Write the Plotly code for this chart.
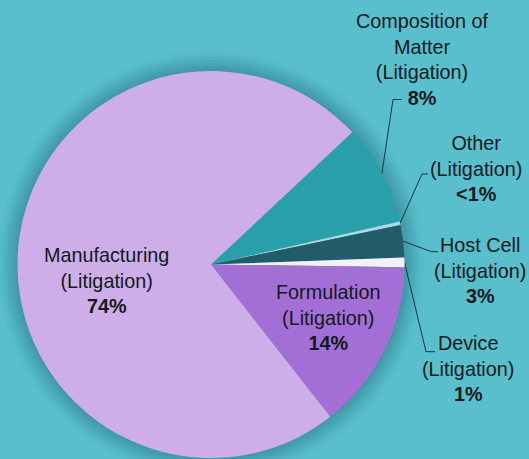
import math
import plotly.graph_objects as go

# ---- data ----
categories = ["Composition of Matter", "Other", "Host Cell", "Device", "Formulation", "Manufacturing"]
values = [8.4, 0.3, 2.7, 0.8, 14.2, 73.6]
pct_labels = ["8%", "<1%", "3%", "1%", "14%", "74%"]
colors = ["#2a9fac", "#a9dbe2", "#215c68", "#f3f0f8", "#a36fd7", "#cdaee8"]

W, H = 529, 459
BG = "#59bfcd"
CX, CY, R = 211, 264.5, 193.5     # pie centre / radius in pixels
ROT = 46.9                          # start angle of first slice (deg, clockwise from 12 o'clock)

fig = go.Figure()

# pie
fig.add_trace(go.Pie(
    labels=categories, values=values, sort=False, direction="clockwise",
    rotation=ROT, textinfo="none", hoverinfo="label+percent",
    marker=dict(colors=colors, line=dict(width=0)),
    domain=dict(x=[(CX - R) / W, (CX + R) / W], y=[(H - CY - R) / H, (H - CY + R) / H]),
    showlegend=False,
))

# slice mid angles from the data
total = sum(values)
mid = {}
acc = 0
for c, v in zip(categories, values):
    mid[c] = ROT + (acc + v / 2) / total * 360
    acc += v

def edge(c):
    a = math.radians(mid[c])
    return CX + R * math.sin(a), CY - R * math.cos(a)

# label layout: (category, text centre x, text centre y, elbow, end of leader)
outside = [
    ("Composition of Matter", "Composition of<br>Matter<br>(Litigation)", 422, 59, (393, 99.5), (402, 99.5)),
    ("Other", "Other<br>(Litigation)", 476, 168, (422, 174), (428, 174)),
    ("Host Cell", "Host Cell<br>(Litigation)", 480, 270, (431.5, 251.7), (438, 251.7)),
    ("Device", "Device<br>(Litigation)", 468, 368, (426, 351.7), (435, 351.7)),
]
inside = [
    ("Manufacturing", "Manufacturing<br>(Litigation)", 106, 280),
    ("Formulation", "Formulation<br>(Litigation)", 328, 317),
]

FONT = dict(family="Arial, Liberation Sans, sans-serif", size=19.8, color="#121a1c")

for cat, txt, tx, ty, elb, end in outside:
    ex, ey = edge(cat)
    fig.add_trace(go.Scatter(x=[ex, elb[0], end[0]], y=[ey, elb[1], end[1]], mode="lines",
                             line=dict(color="#18353b", width=1), hoverinfo="skip",
                             showlegend=False))
    p = pct_labels[categories.index(cat)]
    fig.add_annotation(x=tx, y=ty, xref="x", yref="y", text=f"{txt}<br><b>{p}</b>",
                       showarrow=False, font=FONT, align="center",
                       xanchor="center", yanchor="middle")

for cat, txt, tx, ty in inside:
    p = pct_labels[categories.index(cat)]
    fig.add_annotation(x=tx, y=ty, xref="x", yref="y", text=f"{txt}<br><b>{p}</b>",
                       showarrow=False, font=FONT, align="center",
                       xanchor="center", yanchor="middle")

# soft shadow around pie
shapes = []
for i, op in enumerate([0.06, 0.06, 0.05, 0.05, 0.04, 0.03, 0.02]):
    rr = R + 2 + i * 3
    shapes.append(dict(type="circle", xref="x", yref="y", x0=CX - rr, x1=CX + rr,
                       y0=CY - rr, y1=CY + rr, fillcolor=f"rgba(10,60,70,{op})",
                       line=dict(width=0), layer="below"))

fig.update_layout(
    width=W, height=H, margin=dict(l=0, r=0, t=0, b=0),
    paper_bgcolor=BG, plot_bgcolor="rgba(0,0,0,0)",
    xaxis=dict(range=[0, W], visible=False, fixedrange=True),
    yaxis=dict(range=[H, 0], visible=False, fixedrange=True),
    shapes=shapes, showlegend=False,
)

fig.write_html(
    "out.html",
    config={"displayModeBar": False},
    post_script="document.body.style.margin='0';document.body.style.overflow='hidden';",
)
